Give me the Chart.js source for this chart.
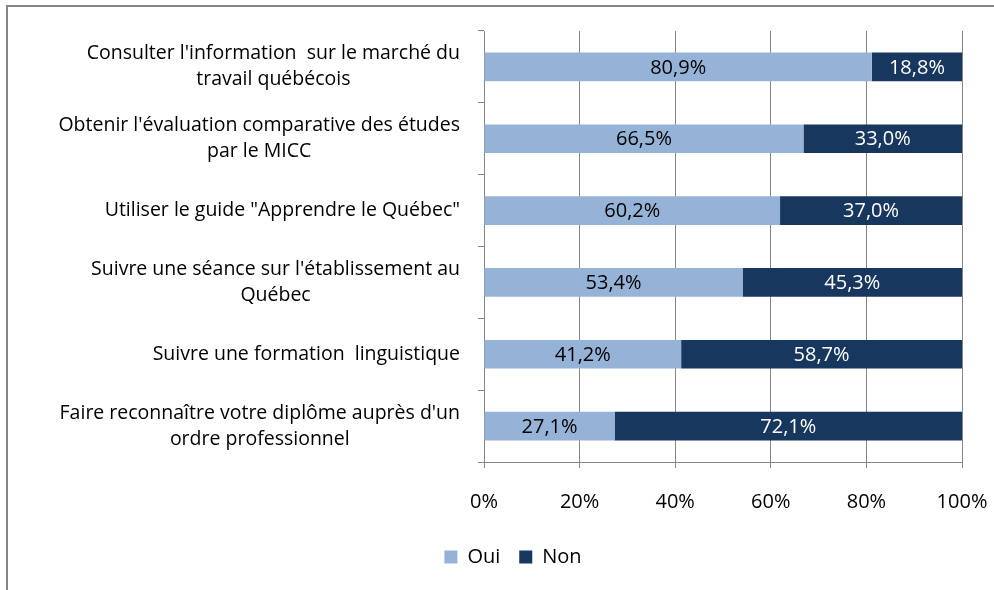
<!DOCTYPE html>
<html>
<head>
<meta charset="utf-8">
<script src="https://cdn.jsdelivr.net/npm/chart.js@4/dist/chart.umd.min.js"></script>
<style>
  html, body { margin: 0; padding: 0; background: #fff; }
  #wrap { width: 994px; height: 590px; position: relative; }
</style>
</head>
<body>
<div id="wrap"><canvas id="chart"></canvas></div>
<script>
// Categories (multi-line labels, as wrapped in the original)
const categories = [
    ["Consulter l'information  sur le marché du", "travail québécois"],
    ["Obtenir l'évaluation comparative des études", "par le MICC"],
    ['Utiliser le guide "Apprendre le Québec"'],
    ["Suivre une séance sur l'établissement au", "Québec"],
    ["Suivre une formation  linguistique"],
    ["Faire reconnaître votre diplôme auprès d'un", "ordre professionnel"]
];
const seriesNames = ["Oui", "Non"];
const ouiValues = [80.9, 66.5, 60.2, 53.4, 41.2, 27.1];
const nonValues = [18.8, 33.0, 37.0, 45.3, 58.7, 72.1];
const xTickValues = [0, 20, 40, 60, 80, 100];

const FONT = "'Open Sans', Lato, sans-serif";
const GRID = '#868686';
const COLORS = ['#95B3D7', '#17375E'];
const LABEL_COLORS = ['#000000', '#ffffff'];
const PAD_LEFT = 64;

// 100% stacked: each bar shown as share of its row total
const rowTotals = ouiValues.map((v, i) => v + nonValues[i]);
const ouiShare = ouiValues.map((v, i) => v / rowTotals[i] * 100);
const nonShare = nonValues.map((v, i) => v / rowTotals[i] * 100);
const rawValues = [ouiValues, nonValues];

// frame around the chart (left + top only, like the cropped original)
const framePlugin = {
    id: 'frame',
    beforeDraw(chart) {
        const ctx = chart.ctx;
        ctx.save();
        ctx.strokeStyle = GRID;
        ctx.lineWidth = 2;
        ctx.beginPath();
        ctx.moveTo(7, 590);
        ctx.lineTo(7, 6);
        ctx.lineTo(994, 6);
        ctx.stroke();
        ctx.restore();
    }
};

// category labels: block right aligned to the axis, lines centred inside
const categoryLabelPlugin = {
    id: 'categoryLabels',
    afterDraw(chart) {
        const ctx = chart.ctx;
        const yScale = chart.scales.y;
        ctx.save();
        ctx.font = '19.5px ' + FONT;
        ctx.fillStyle = '#000';
        ctx.textAlign = 'center';
        ctx.textBaseline = 'middle';
        const lineH = 26;
        const rightEdge = chart.chartArea.left - 24;
        categories.forEach((lines, i) => {
            const yc = yScale.getPixelForTick(i);
            const blockW = Math.max(...lines.map(l => ctx.measureText(l).width));
            const cx = rightEdge - blockW / 2;
            const y0 = yc - (lines.length - 1) * lineH / 2;
            lines.forEach((l, j) => ctx.fillText(l, cx, y0 + j * lineH));
        });
        ctx.restore();
    }
};

// value labels inside each bar segment
const valueLabelPlugin = {
    id: 'valueLabels',
    afterDatasetsDraw(chart) {
        const ctx = chart.ctx;
        ctx.save();
        ctx.font = '20px ' + FONT;
        ctx.textAlign = 'center';
        ctx.textBaseline = 'middle';
        chart.data.datasets.forEach((ds, di) => {
            const meta = chart.getDatasetMeta(di);
            ctx.fillStyle = LABEL_COLORS[di];
            meta.data.forEach((bar, i) => {
                const cx = (bar.x + bar.base) / 2;
                const txt = rawValues[di][i].toFixed(1).replace('.', ',') + '%';
                ctx.fillText(txt, cx, bar.y + 1);
            });
        });
        ctx.restore();
    }
};

new Chart(document.getElementById('chart'), {
    type: 'bar',
    data: {
        labels: categories,
        datasets: [
            { label: seriesNames[0], data: ouiShare, backgroundColor: COLORS[0], barPercentage: 0.4, categoryPercentage: 1 },
            { label: seriesNames[1], data: nonShare, backgroundColor: COLORS[1], barPercentage: 0.4, categoryPercentage: 1 }
        ]
    },
    options: {
        indexAxis: 'y',
        responsive: true,
        maintainAspectRatio: false,
        animation: false,
        layout: { padding: { top: 31, right: 32, bottom: 13, left: PAD_LEFT } },
        scales: {
            x: {
                stacked: true,
                min: 0,
                max: 100,
                afterBuildTicks: s => { s.ticks = xTickValues.map(v => ({ value: v })); },
                afterFit: s => { s.height = 66; s.paddingLeft = 0; s.paddingRight = 0; },
                ticks: {
                    callback: v => v + '%',
                    color: '#000',
                    font: { family: FONT, size: 20 },
                    padding: 22
                },
                grid: { color: GRID, lineWidth: 1, tickLength: 6 },
                border: { color: GRID, width: 1 }
            },
            y: {
                stacked: true,
                afterFit: s => { s.width = 484 - PAD_LEFT; },
                ticks: { display: false },
                grid: { drawOnChartArea: false, color: GRID, tickLength: 6, offset: true },
                border: { color: GRID, width: 1 }
            }
        },
        plugins: {
            legend: {
                position: 'bottom',
                labels: {
                    color: '#000',
                    font: { family: FONT, size: 20 },
                    boxWidth: 13,
                    boxHeight: 13,
                    padding: 19
                }
            },
            tooltip: { enabled: false }
        }
    },
    plugins: [framePlugin, categoryLabelPlugin, valueLabelPlugin]
});
</script>
</body>
</html>
